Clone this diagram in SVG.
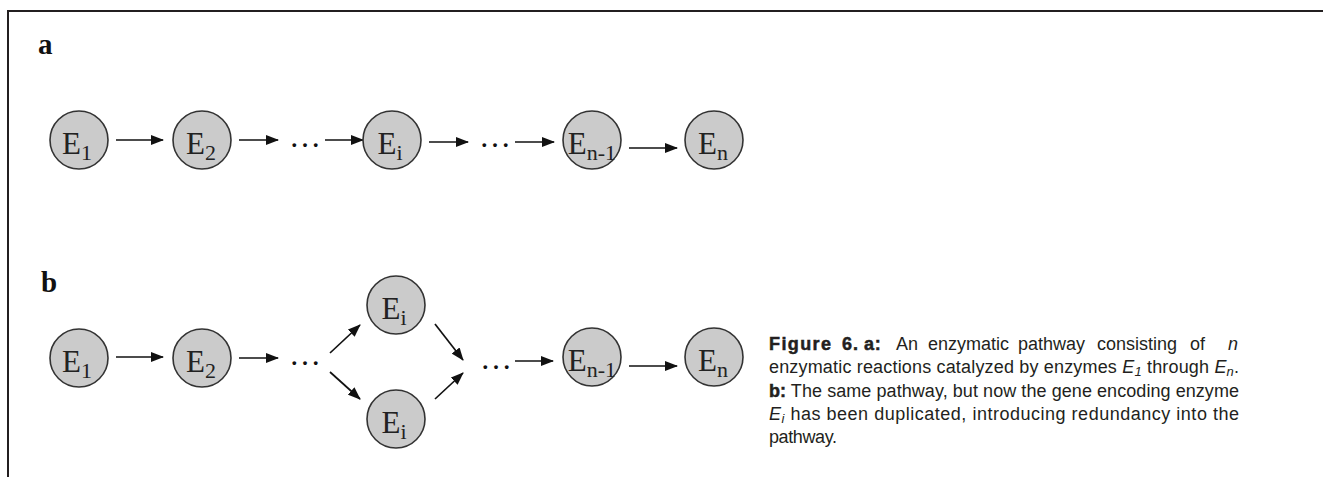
<svg xmlns="http://www.w3.org/2000/svg" width="1323" height="477" viewBox="0 0 1323 477">
  <defs>
    <marker id="ah" markerWidth="13" markerHeight="10" refX="12" refY="5" orient="auto" markerUnits="userSpaceOnUse">
      <path d="M0,0 L13,5 L0,10 Z" fill="#111"/>
    </marker>
  </defs>
  <style>
    .node circle { fill: #cbcbcb; stroke: #333; stroke-width: 1.6; }
    .node text { font-family: "Liberation Serif", "Times New Roman", serif; font-size: 31px; fill: #222; text-anchor: middle; }
    .node .sub { font-size: 22px; }
    .conn line { stroke: #111; stroke-width: 1.7; marker-end: url(#ah); }
    .dots { font-family: "Liberation Serif", serif; font-size: 32px; fill: #111; }
    .lbl { font-family: "Liberation Serif", serif; font-weight: bold; font-size: 29px; fill: #111; }
    .cap { font-family: "Liberation Sans", Arial, sans-serif; font-size: 18px; fill: #231f20; }
    .capb { font-weight: bold; stroke: #231f20; stroke-width: 0.5; }
    .it { font-style: italic; }
  </style>
  <rect width="1323" height="477" fill="#fff"/>
  <!-- frame -->
  <path d="M8,477 V11 H1323" fill="none" stroke="#231f20" stroke-width="2"/>

  <text class="lbl" x="38" y="54">a</text>
  <text class="lbl" x="41" y="292">b</text>

  <!-- connectors -->
  <g id="connectors" class="conn">
    <line x1="116" y1="140" x2="163" y2="140"/>
    <line x1="239" y1="140" x2="278" y2="140"/>
    <line x1="325" y1="140" x2="363" y2="140"/>
    <line x1="429" y1="142" x2="468" y2="142"/>
    <line x1="515" y1="142" x2="554" y2="142"/>
    <line x1="629" y1="148" x2="677" y2="148"/>

    <line x1="116" y1="357" x2="163" y2="357"/>
    <line x1="239" y1="358" x2="278" y2="358"/>
    <line x1="330" y1="353" x2="360" y2="325"/>
    <line x1="330" y1="372" x2="360" y2="399"/>
    <line x1="435" y1="324" x2="463" y2="360"/>
    <line x1="435" y1="399" x2="463" y2="373"/>
    <line x1="515" y1="361" x2="553" y2="361"/>
    <line x1="629" y1="366" x2="677" y2="366"/>
  </g>

  <text class="dots" x="289" y="147">…</text>
  <text class="dots" x="479" y="147">…</text>
  <text class="dots" x="289" y="365">…</text>
  <text class="dots" x="480" y="369">…</text>

  <!-- row a -->
  <g id="a-E1" class="node"><circle cx="79" cy="140" r="29"/><text x="77" y="154">E<tspan class="sub" dy="6">1</tspan></text></g>
  <g id="a-E2" class="node"><circle cx="202" cy="140" r="29"/><text x="201" y="154">E<tspan class="sub" dy="6">2</tspan></text></g>
  <g id="a-Ei" class="node"><circle cx="392" cy="140" r="29"/><text x="390" y="154">E<tspan class="sub" dy="6">i</tspan></text></g>
  <g id="a-En1" class="node"><circle cx="592" cy="140" r="29"/><text x="592" y="154">E<tspan class="sub" dy="6">n-1</tspan></text></g>
  <g id="a-En" class="node"><circle cx="714" cy="140" r="29"/><text x="713" y="154">E<tspan class="sub" dy="6">n</tspan></text></g>

  <!-- row b -->
  <g id="b-E1" class="node"><circle cx="79" cy="358" r="29"/><text x="77" y="372">E<tspan class="sub" dy="6">1</tspan></text></g>
  <g id="b-E2" class="node"><circle cx="202" cy="358" r="29"/><text x="201" y="372">E<tspan class="sub" dy="6">2</tspan></text></g>
  <g id="b-Ei1" class="node"><circle cx="396" cy="305" r="29"/><text x="394" y="319">E<tspan class="sub" dy="6">i</tspan></text></g>
  <g id="b-Ei2" class="node"><circle cx="396" cy="419" r="29"/><text x="394" y="433">E<tspan class="sub" dy="6">i</tspan></text></g>
  <g id="b-En1" class="node"><circle cx="592" cy="357" r="29"/><text x="592" y="371">E<tspan class="sub" dy="6">n-1</tspan></text></g>
  <g id="b-En" class="node"><circle cx="714" cy="357" r="29"/><text x="713" y="371">E<tspan class="sub" dy="6">n</tspan></text></g>

  <!-- caption -->
  <g id="caption" class="cap">
    <text y="350"><tspan x="769" class="capb" letter-spacing="1.4">Figure</tspan><tspan x="842" class="capb" letter-spacing="1">6.</tspan><tspan x="864" class="capb" letter-spacing="0.8">a:</tspan><tspan x="896">An</tspan><tspan x="928">enzymatic</tspan><tspan x="1018">pathway</tspan><tspan x="1097">consisting</tspan><tspan x="1190">of</tspan><tspan x="1228" class="it">n</tspan></text>
    <text x="769" y="373" textLength="470" lengthAdjust="spacing">enzymatic reactions catalyzed by enzymes <tspan class="it">E</tspan><tspan class="it" font-size="13" dy="3">1</tspan><tspan dy="-3"> through </tspan><tspan class="it">E</tspan><tspan class="it" font-size="13" dy="3">n</tspan><tspan dy="-3">.</tspan></text>
    <text x="769" y="397" textLength="470" lengthAdjust="spacing"><tspan class="capb">b:</tspan> The same pathway, but now the gene encoding enzyme</text>
    <text x="769" y="420" textLength="470" lengthAdjust="spacing"><tspan class="it">E</tspan><tspan class="it" font-size="13" dy="3">i</tspan><tspan dy="-3"> has been duplicated, introducing redundancy into the</tspan></text>
    <text x="769" y="443" letter-spacing="-0.4">pathway.</text>
  </g>
</svg>
